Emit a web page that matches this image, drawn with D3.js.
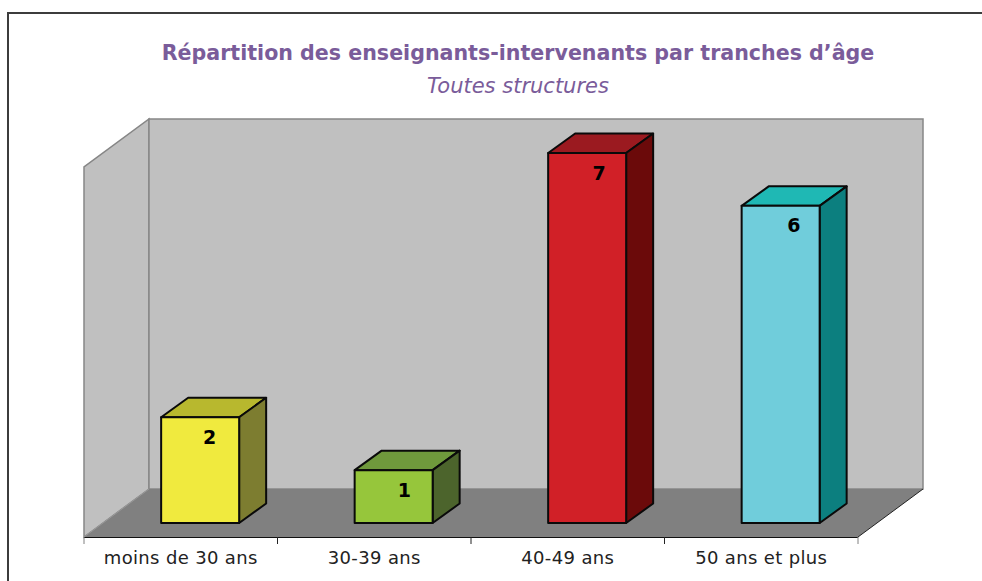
<!DOCTYPE html>
<html><head><meta charset="utf-8">
<style>html,body{margin:0;padding:0;background:#fff;overflow:hidden}svg{display:block}</style>
<script src="https://cdn.jsdelivr.net/npm/d3@7"></script></head><body>
<script>
const categories=["moins de 30 ans","30-39 ans","40-49 ans","50 ans et plus"];
const values=[2,1,7,6];
const frontColors=["#f0ea3e","#96c63b","#d12027","#70cddb"];
const topColors=["#b8b82e","#6f993c","#9b1a20","#1fb8b4"];
const sideColors=["#7d7d30","#4c642c","#6b0a0a","#0c7f7f"];
const titleText="Répartition des enseignants-intervenants par tranches d’âge";
const subtitleText="Toutes structures";
const W=982,H=581;
const svg=d3.select("body").append("svg").attr("width",W).attr("height",H);
const font="Verdana, 'DejaVu Sans', sans-serif";
const x=d3.scaleBand().domain(categories).range([84,858]);
const y=d3.scaleLinear().domain([0,7]).range([537,167]);
const wx=65,wy=48; // wall depth
const bx=27,by=19.5; // bar depth
const ox=19.4,oy=14;  // bar offset into the floor
const line=p=>"M"+p.map(a=>a.join(",")).join("L")+"Z";
svg.append("rect").attr("x",8).attr("y",13).attr("width",1000).attr("height",600).attr("fill","#fff").attr("stroke","#3c3c3c").attr("stroke-width",2);
const t=svg.append("g").attr("font-family",font).attr("fill","#7a5c9a").attr("text-anchor","middle");
t.append("text").attr("x",518).attr("y",60).attr("font-size",20.6).attr("font-weight","bold").text(titleText);
t.append("text").attr("x",518).attr("y",92.5).attr("font-size",21).attr("font-style","italic").text(subtitleText);
const x0=x.range()[0],x1=x.range()[1],y0=y(0),y7=y(7);
svg.append("path").attr("d",line([[x0,y0],[x0,y7],[x0+wx,y7-wy],[x0+wx,y0-wy]])).attr("fill","#c0c0c0").attr("stroke","#868686").attr("stroke-width",1.5);
svg.append("path").attr("d",line([[x0+wx,y0-wy],[x0+wx,y7-wy],[x1+wx,y7-wy],[x1+wx,y0-wy]])).attr("fill","#c0c0c0").attr("stroke","#868686").attr("stroke-width",1.5);
svg.append("path").attr("d",line([[x0,y0],[x0+wx,y0-wy],[x1+wx,y0-wy],[x1,y0]])).attr("fill","#808080");
svg.append("path").attr("d",`M${x1},${y0}L${x1+wx},${y0-wy}`).attr("stroke","#222").attr("fill","none");
svg.append("path").attr("d",`M${x0},${y0}L${x0+wx},${y0-wy}`).attr("stroke","#999").attr("fill","none");
const axis=d3.axisBottom(x).tickSize(0).tickPadding(14);
const ag=svg.append("g").attr("transform",`translate(0,${y0})`).call(axis);
ag.select(".domain").attr("stroke","#111").attr("stroke-width",1.2).attr("d",`M${x0},0.5H${x1}`);
ag.selectAll("text").attr("font-family",font).attr("font-size",18).attr("letter-spacing",0.35).attr("fill","#222");
ag.selectAll("line.sep").data(d3.range(categories.length+1)).join("line").attr("class","sep")
  .attr("x1",i=>x0+i*x.bandwidth()).attr("x2",i=>x0+i*x.bandwidth()).attr("y1",0).attr("y2",7)
  .attr("stroke",i=>(i===0||i===categories.length)?"#808080":"#222").attr("stroke-width",1);
const bw=78;
const bars=svg.selectAll("g.bar").data(categories.map((c,i)=>({c,i,v:values[i]}))).join("g").attr("class","bar");
const L=d=>x(d.c)+x.bandwidth()/2+ox-bw/2, B=()=>y(0)-oy, T=d=>y(d.v)-oy;
const st=s=>s.attr("stroke","#0a0a0a").attr("stroke-width",2).attr("stroke-linejoin","round");
bars.append("path").attr("d",d=>line([[L(d),T(d)],[L(d)+bw,T(d)],[L(d)+bw+bx,T(d)-by],[L(d)+bx,T(d)-by]])).attr("fill",d=>topColors[d.i]).call(st);
bars.append("path").attr("d",d=>line([[L(d)+bw,T(d)],[L(d)+bw+bx,T(d)-by],[L(d)+bw+bx,B()-by],[L(d)+bw,B()]])).attr("fill",d=>sideColors[d.i]).call(st);
bars.append("rect").attr("x",L).attr("y",T).attr("width",bw).attr("height",d=>B()-T(d)).attr("fill",d=>frontColors[d.i]).call(st);
bars.append("text").attr("x",d=>L(d)+48.5+d.i*1.2).attr("y",d=>T(d)+26.5).attr("text-anchor","middle").attr("font-family",font).attr("font-size",19).attr("font-weight","bold").attr("fill","#000").text(d=>d.v);
</script></body></html>
